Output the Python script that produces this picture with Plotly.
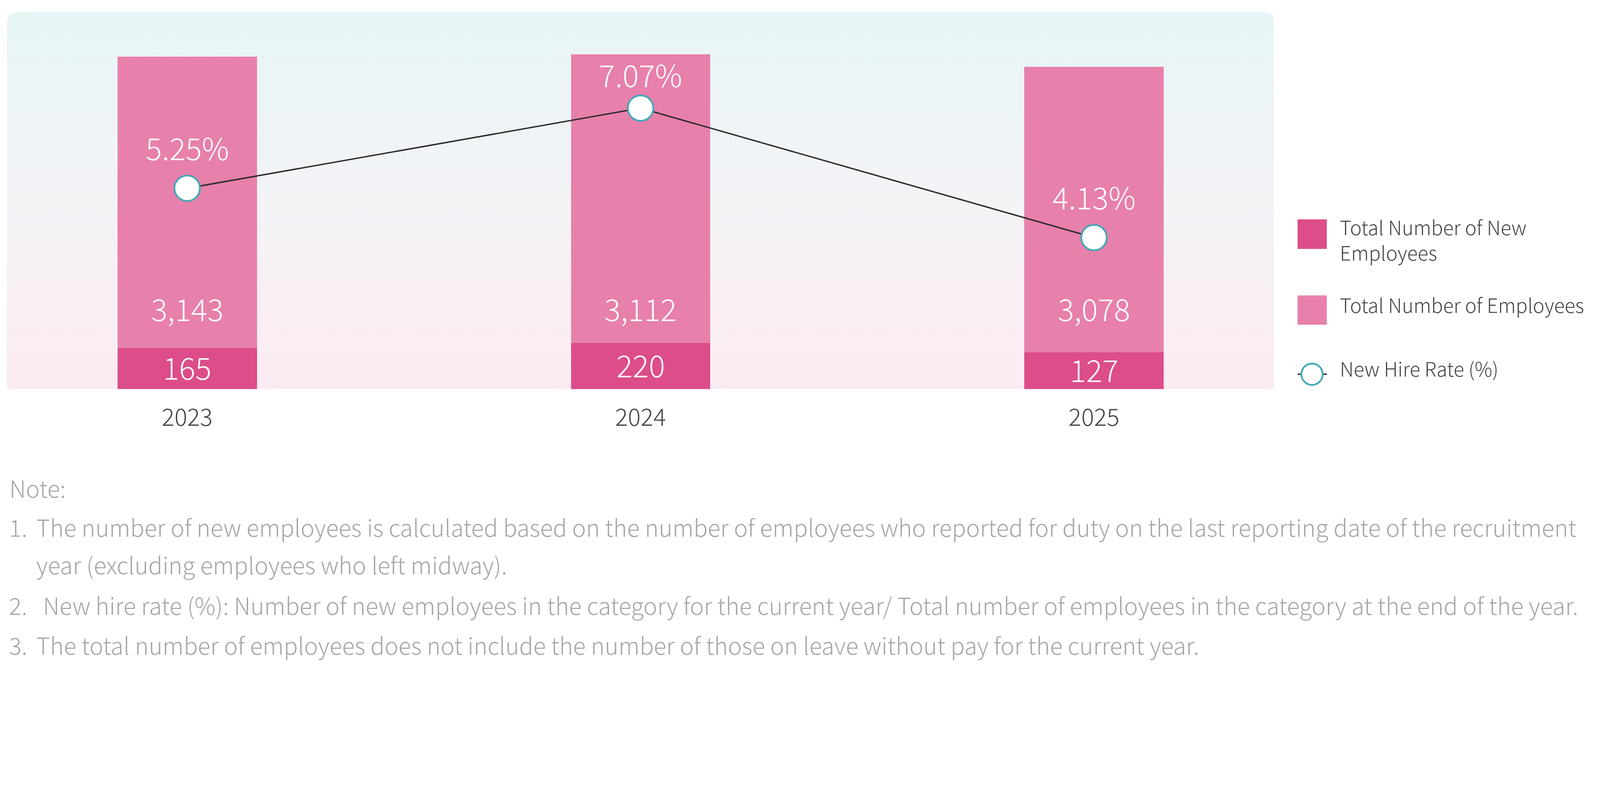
import base64
import math
import plotly.graph_objects as go

# ---------------- data ----------------
years = ["2023", "2024", "2025"]
new_employees = [165, 220, 127]
total_employees = [3143, 3112, 3078]
new_hire_rate = [5.25, 7.07, 4.13]

legend_labels = ["Total Number of New<br>Employees", "Total Number of Employees", "New Hire Rate (%)"]
note_title = "Note:"
note_numbers = ["1.", "2.", "3."]
note_lines = [
    "The number of new employees is calculated based on the number of employees who reported for duty on the last reporting date of the recruitment",
    "year (excluding employees who left midway).",
    "New hire rate (%): Number of new employees in the category for the current year/ Total number of employees in the category at the end of the year.",
    "The total number of employees does not include the number of those on leave without pay for the current year.",
]

# ---------------- style ----------------
# design values below are in target-image pixels; D converts them to CSS px
D = 4648 / 4096
BODY = 8


def S(v):
    return v / D


W_REF, H_REF = 4648, 2048
PL, PT, PW, PH = 20, 35, 3681, 1095
FIG_W = 4096 - 2 * BODY
FIG_H = round(H_REF / D) - 2 * BODY
ML = PL / D - BODY
MT = PT / D - BODY
MR = FIG_W - ML - PW / D
MB = FIG_H - MT - PH / D

FONT = "Noto Sans CJK TC Light, Noto Sans CJK TC, Noto Sans CJK SC, Noto Sans, sans-serif"
WT = 300
C_DARK = "#dc4d8a"
C_LIGHT = "#e780ab"
C_TEAL = "#3ea8b7"
C_LINE = "#2e2a2c"
C_TEXT = "#444444"
C_NOTE = "#a6a6a6"


def px_x(px):
    return (px - PL) / PW


def px_y(py):
    return (PT + PH - py) / PH


def box_center(baseline, fs):
    return baseline - 0.436 * fs


LOG_LO = 1.1583
LOG_HI = LOG_LO + PH / 112.9

r = 30
svg = (
    f'<svg xmlns="http://www.w3.org/2000/svg" width="{PW}" height="{PH}" '
    f'viewBox="0 0 {PW} {PH}" preserveAspectRatio="none">'
    '<defs><linearGradient id="g" x1="0" y1="0" x2="0" y2="1">'
    '<stop offset="0" stop-color="#e7f5f6"/>'
    '<stop offset="0.5" stop-color="#f3f3f6"/>'
    '<stop offset="1" stop-color="#fcebf2"/>'
    '</linearGradient></defs>'
    f'<path d="M0,{r} Q0,0 {r},0 L{PW - r},0 Q{PW},0 {PW},{r} L{PW},{PH} L0,{PH} Z" fill="url(#g)"/>'
    '</svg>'
)
svg_uri = "data:image/svg+xml;base64," + base64.b64encode(svg.encode()).decode()

stack_totals = [n + t for n, t in zip(new_employees, total_employees)]

fig = go.Figure()
fig.add_trace(go.Bar(
    x=years, y=stack_totals, name="Total Number of Employees",
    marker=dict(color=C_LIGHT, line=dict(width=0)),
    width=0.3074, yaxis="y", showlegend=False, hoverinfo="skip",
))
fig.add_trace(go.Bar(
    x=years, y=new_employees, name="Total Number of New Employees",
    marker=dict(color=C_DARK, line=dict(width=0)),
    width=0.3074, yaxis="y2", showlegend=False, hoverinfo="skip",
))
fig.add_trace(go.Scatter(
    x=years, y=new_hire_rate, name="New Hire Rate (%)", mode="lines+markers",
    line=dict(color=C_LINE, width=S(4)),
    marker=dict(size=S(74), color="white", line=dict(color=C_TEAL, width=S(5))),
    yaxis="y3", showlegend=False, hoverinfo="skip",
))


def fnt(size, color):
    return dict(family=FONT, size=S(size), color=color, weight=WT)


ann = []
for i, t in enumerate(total_employees):
    ann.append(dict(x=i, xref="x", y=px_y(box_center(932, 88)), yref="paper",
                    text=f"{t:,}", showarrow=False, xanchor="center", yanchor="middle",
                    font=fnt(88, "white")))
for i, n in enumerate(new_employees):
    ann.append(dict(x=i, xref="x", y=(LOG_LO + math.log10(n)) / 2, yref="y2",
                    text=f"{n:,}", showarrow=False, xanchor="center", yanchor="middle",
                    yshift=S(6), font=fnt(88, "white")))
rate_shift = [120, 100, 120]
for i, (v, s) in enumerate(zip(new_hire_rate, rate_shift)):
    ann.append(dict(x=i, xref="x", y=v, yref="y3", text=f"{v:.2f}%", showarrow=False,
                    xanchor="center", yanchor="middle", yshift=S(s),
                    font=fnt(88, "white")))

shapes = [
    dict(type="rect", xref="paper", yref="paper",
         x0=px_x(3770), x1=px_x(3855), y0=px_y(723), y1=px_y(637),
         fillcolor=C_DARK, line=dict(width=0)),
    dict(type="rect", xref="paper", yref="paper",
         x0=px_x(3770), x1=px_x(3855), y0=px_y(943), y1=px_y(858),
         fillcolor=C_LIGHT, line=dict(width=0)),
    dict(type="line", xref="paper", yref="paper",
         x0=px_x(3770), x1=px_x(3855), y0=px_y(1087), y1=px_y(1087),
         line=dict(color=C_LINE, width=S(4))),
    dict(type="circle", xref="paper", yref="paper",
         x0=px_x(3812 - 31), x1=px_x(3812 + 31), y0=px_y(1087 + 31), y1=px_y(1087 - 31),
         fillcolor="white", line=dict(color=C_TEAL, width=S(5))),
]

LFS = 57
leg_centers = [695, box_center(909, LFS), box_center(1094, LFS)]
for txt, c in zip(legend_labels, leg_centers):
    ann.append(dict(x=px_x(3891), xref="paper", y=px_y(c), yref="paper",
                    text=txt, showarrow=False, xanchor="left", yanchor="middle", align="left",
                    font=fnt(LFS, C_TEXT)))

NFS = 68
ann.append(dict(x=px_x(25), xref="paper", y=px_y(box_center(1445, NFS)), yref="paper",
                text=note_title, showarrow=False, xanchor="left", yanchor="middle",
                font=fnt(NFS, C_NOTE)))
for num, bl in zip(note_numbers, [1559, 1786, 1901]):
    ann.append(dict(x=px_x(23), xref="paper", y=px_y(box_center(bl, NFS)), yref="paper",
                    text=num, showarrow=False, xanchor="left", yanchor="middle",
                    font=fnt(NFS, C_NOTE)))
for txt, lx, bl in zip(note_lines, [103, 103, 122, 103], [1559, 1668, 1786, 1901]):
    ann.append(dict(x=px_x(lx), xref="paper", y=px_y(box_center(bl, NFS)), yref="paper",
                    text=txt, showarrow=False, xanchor="left", yanchor="middle",
                    font=fnt(NFS, C_NOTE)))

fig.update_layout(
    width=FIG_W, height=FIG_H,
    margin=dict(l=ML, r=MR, t=MT, b=MB, pad=0),
    paper_bgcolor="white", plot_bgcolor="rgba(0,0,0,0)",
    barmode="overlay", bargap=0,
    font=dict(family=FONT, color=C_TEXT, weight=WT),
    images=[dict(source=svg_uri, xref="paper", yref="paper", x=0, y=1, sizex=1, sizey=1,
                 xanchor="left", yanchor="top", sizing="stretch", layer="below")],
    xaxis=dict(type="category", range=[-0.3973, 2.3966], showgrid=False, zeroline=False,
               showline=False, ticks="", tickfont=fnt(69, C_TEXT),
               ticklabelstandoff=int(round(S(36))), fixedrange=True),
    yaxis=dict(range=[0, PH / 0.292], visible=False, fixedrange=True),
    yaxis2=dict(type="log", range=[LOG_LO, LOG_HI], overlaying="y", visible=False, fixedrange=True),
    yaxis3=dict(range=[0.69, 9.251], overlaying="y", visible=False, fixedrange=True),
    annotations=ann, shapes=shapes, showlegend=False,
)

fig.write_html("out.html")
